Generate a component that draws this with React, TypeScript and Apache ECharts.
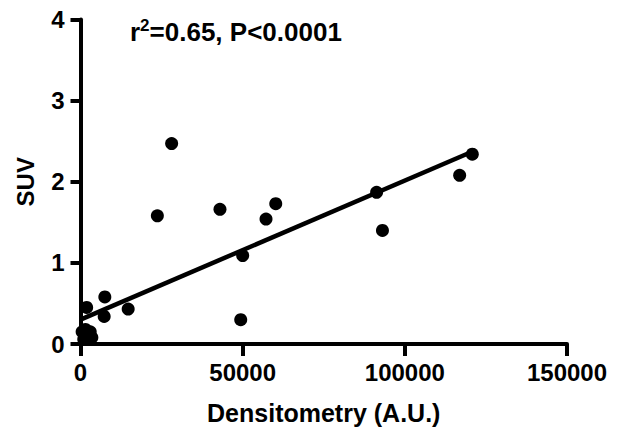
import React, { useEffect, useRef } from "react";
import * as echarts from "echarts";

// Scatter data (Densitometry A.U. vs SUV)
const densitometry = [500, 1500, 2500, 3500, 1000, 3000, 1900, 7500, 7300, 14700, 23700, 28100, 43000, 49400, 50000, 57200, 60200, 91300, 93100, 116900, 120800];
const suv = [0.15, 0.18, 0.10, 0.08, 0.06, 0.15, 0.45, 0.58, 0.34, 0.43, 1.58, 2.47, 1.66, 0.30, 1.09, 1.54, 1.73, 1.87, 1.40, 2.08, 2.34];

// Linear fit
const fitIntercept = 0.30;
const fitSlope = 1.715e-5;
const fitXRange = [0, 121800];

const xTicks = [0, 50000, 100000, 150000];
const yTicks = [0, 1, 2, 3, 4];

const FONT = "'Liberation Sans', Arial, Helvetica, sans-serif";

export default function App() {
  const ref = useRef<HTMLDivElement>(null);
  useEffect(() => {
    if (!ref.current) return;
    const chart = echarts.init(ref.current, null, { renderer: "svg" });
    const points = densitometry.map((x, i) => [x, suv[i]]);
    const fitLine = fitXRange.map((x) => [x, fitIntercept + fitSlope * x]);
    chart.setOption({
      animation: false,
      backgroundColor: "#fff",
      title: {
        text: "{a|r}{b|2}{a|=0.65, P<0.0001}",
        left: 125,
        top: 12,
        textStyle: {
          rich: {
            a: { fontFamily: FONT, fontWeight: "bold", fontSize: 26, color: "#000" },
            b: { fontFamily: FONT, fontWeight: "bold", fontSize: 17, color: "#000", padding: [0, 0, 12, 0] },
          },
        },
      },
      grid: { left: 80.5, top: 19.5, right: 59, bottom: 100, containLabel: false },
      xAxis: {
        type: "value",
        min: xTicks[0],
        max: xTicks[xTicks.length - 1],
        interval: xTicks[1] - xTicks[0],
        name: "Densitometry (A.U.)",
        nameLocation: "middle",
        nameGap: 56,
        nameTextStyle: { fontFamily: FONT, fontWeight: "bold", fontSize: 25, color: "#000" },
        axisLine: { show: true, lineStyle: { color: "#000", width: 4 } },
        axisTick: { show: true, length: 12, lineStyle: { color: "#000", width: 4 } },
        axisLabel: {
          fontFamily: FONT,
          fontWeight: "bold",
          fontSize: 24,
          color: "#000",
          margin: 16,
          formatter: (v: number) => String(v),
        },
        splitLine: { show: false },
      },
      yAxis: {
        type: "value",
        min: yTicks[0],
        max: yTicks[yTicks.length - 1],
        interval: yTicks[1] - yTicks[0],
        name: "SUV",
        nameLocation: "middle",
        nameGap: 43,
        nameRotate: 90,
        nameTextStyle: { fontFamily: FONT, fontWeight: "bold", fontSize: 24, color: "#000" },
        axisLine: { show: true, lineStyle: { color: "#000", width: 4 } },
        axisTick: { show: true, length: 10, lineStyle: { color: "#000", width: 4 } },
        axisLabel: {
          fontFamily: FONT,
          fontWeight: "bold",
          fontSize: 24,
          color: "#000",
          margin: 16,
          formatter: (v: number) => String(v),
        },
        splitLine: { show: false },
      },
      series: [
        {
          type: "line",
          data: fitLine,
          symbol: "none",
          lineStyle: { color: "#000", width: 4.5 },
          z: 3,
        },
        {
          type: "scatter",
          data: points,
          symbol: "circle",
          symbolSize: 13,
          itemStyle: { color: "#000", opacity: 1 },
          z: 4,
        },
      ],
    });
    return () => chart.dispose();
  }, []);
  return (
    <div
      ref={ref}
      style={{ position: "absolute", left: 0, top: 0, width: 626, height: 444 }}
    />
  );
}
